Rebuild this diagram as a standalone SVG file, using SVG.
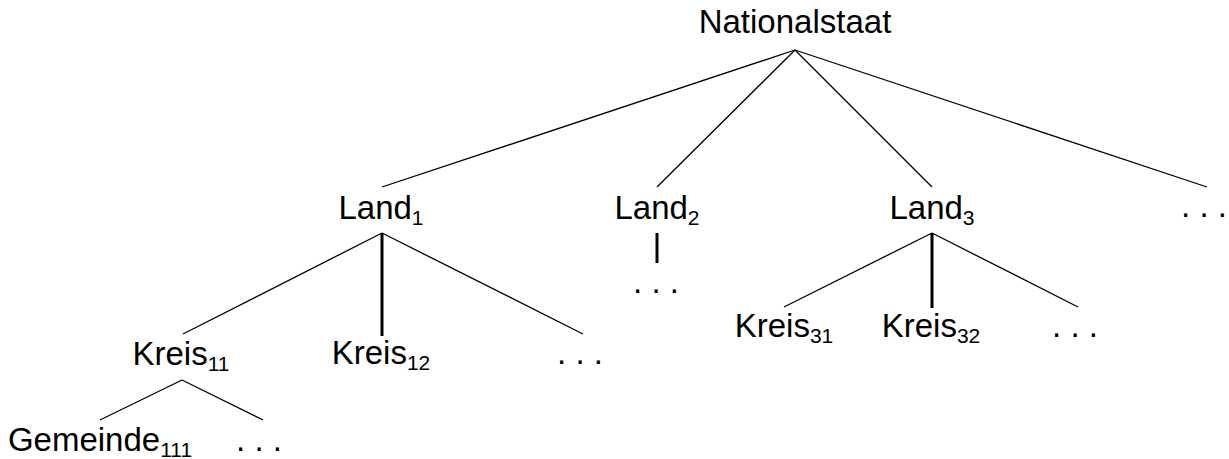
<svg xmlns="http://www.w3.org/2000/svg" width="1229" height="459" viewBox="0 0 1229 459">
<style>
text{font-family:"Liberation Sans",Arial,sans-serif;font-size:33px;fill:#000;text-anchor:middle}
.sub{font-size:21px}
.e{stroke:#000;stroke-width:1.3;fill:none}
.t{stroke:#000;stroke-width:3;fill:none}
</style>
<rect width="1229" height="459" fill="#fff"/>
<g id="connectors">
<line class="e" x1="795" y1="50" x2="382" y2="187"/>
<line class="e" x1="795" y1="50" x2="657" y2="187"/>
<line class="e" x1="795" y1="50" x2="932" y2="187"/>
<line class="e" x1="795" y1="50" x2="1207" y2="187"/>
<line class="e" x1="382" y1="233" x2="183" y2="334"/>
<line class="t" x1="382" y1="233" x2="382" y2="336"/>
<line class="e" x1="382" y1="233" x2="583" y2="334"/>
<line class="t" x1="657" y1="233" x2="657" y2="263"/>
<line class="e" x1="932" y1="233" x2="784" y2="307"/>
<line class="t" x1="932" y1="233" x2="932" y2="308"/>
<line class="e" x1="932" y1="233" x2="1078" y2="307"/>
<line class="e" x1="182" y1="380" x2="100" y2="420"/>
<line class="e" x1="182" y1="380" x2="263" y2="420"/>
</g>
<g id="nationalstaat"><text x="795" y="33">Nationalstaat</text></g>
<g id="land1"><text x="381" y="219">Land<tspan class="sub" dy="6">1</tspan></text></g>
<g id="land2"><text x="657" y="219">Land<tspan class="sub" dy="6">2</tspan></text></g>
<g id="land3"><text x="932" y="219">Land<tspan class="sub" dy="6">3</tspan></text></g>
<g id="land-dots"><text x="1204" y="217">. . .</text></g>
<g id="land2-dots"><text x="656" y="293">. . .</text></g>
<g id="kreis11"><text x="181" y="365">Kreis<tspan class="sub" dy="6">11</tspan></text></g>
<g id="kreis12"><text x="381" y="364">Kreis<tspan class="sub" dy="6">12</tspan></text></g>
<g id="kreis1-dots"><text x="580" y="364">. . .</text></g>
<g id="kreis31"><text x="784" y="337">Kreis<tspan class="sub" dy="6">31</tspan></text></g>
<g id="kreis32"><text x="931" y="337">Kreis<tspan class="sub" dy="6">32</tspan></text></g>
<g id="kreis3-dots"><text x="1075" y="337">. . .</text></g>
<g id="gemeinde111"><text x="100" y="451">Gemeinde<tspan class="sub" dy="6">111</tspan></text></g>
<g id="gemeinde-dots"><text x="259" y="451">. . .</text></g>
</svg>
